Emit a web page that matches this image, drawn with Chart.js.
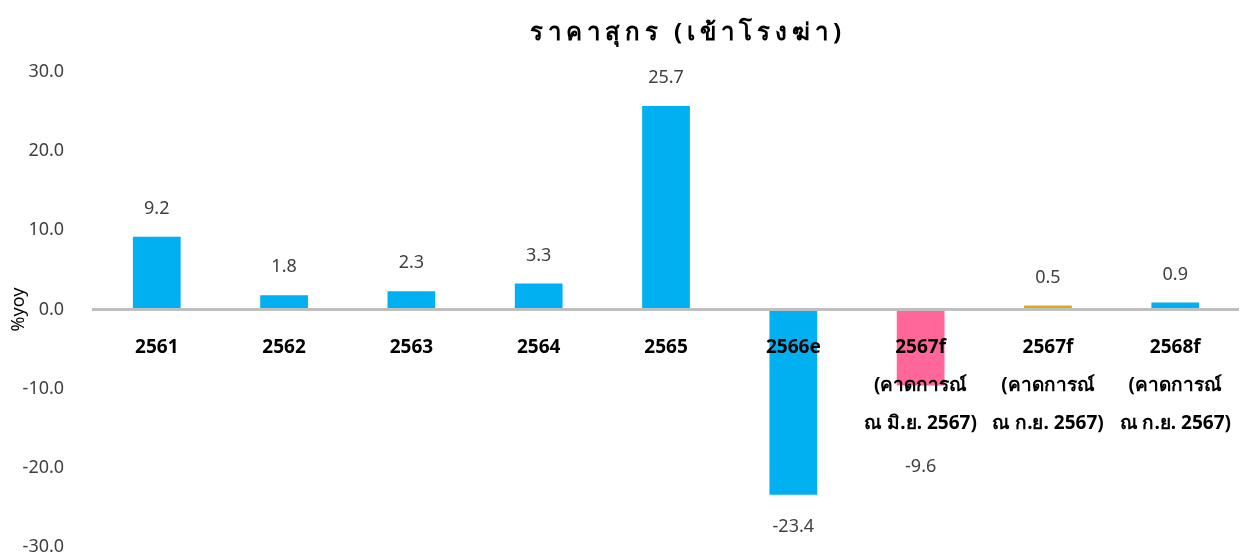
<!DOCTYPE html>
<html>
<head>
<meta charset="utf-8">
<script src="https://cdn.jsdelivr.net/npm/chart.js@4.4.1/dist/chart.umd.min.js"></script>
<style>
  html, body { margin: 0; padding: 0; background: #fff; }
  #wrap { width: 1242px; height: 557px; }
</style>
</head>
<body>
<div id="wrap"><canvas id="pigChart"></canvas></div>
<script>
// ข้อมูลกราฟ
const chartTitle = 'ราคาสุกร (เข้าโรงฆ่า)';
const yTitle = '%yoy';
const categories = [
    ['2561'], ['2562'], ['2563'], ['2564'], ['2565'], ['2566e'],
    ['2567f', '(คาดการณ์', 'ณ มิ.ย. 2567)'],
    ['2567f', '(คาดการณ์', 'ณ ก.ย. 2567)'],
    ['2568f', '(คาดการณ์', 'ณ ก.ย. 2567)']
];
const priceYoy = [9.2, 1.8, 2.3, 3.3, 25.7, -23.4, -9.6, 0.5, 0.9];
const barColors = ['#00B0F0', '#00B0F0', '#00B0F0', '#00B0F0', '#00B0F0', '#00B0F0', '#FF6699', '#DDA81E', '#00B0F0'];
const yTicks = [-30, -20, -10, 0, 10, 20, 30];

const fontFam = "'Noto Sans', 'DejaVu Sans', sans-serif";
const xLabelPad = 11;
const xLineH = 38;

// วาดหัวกราฟ (เว้นระยะตัวอักษร)
const titlePlugin = {
    id: 'spacedTitle',
    afterDraw(chart) {
        const ctx = chart.ctx;
        ctx.save();
        ctx.font = 'bold 24px ' + fontFam;
        ctx.fillStyle = '#000';
        ctx.textAlign = 'center';
        ctx.textBaseline = 'middle';
        if ('letterSpacing' in ctx) ctx.letterSpacing = '5px';
        ctx.fillText(chartTitle, 688, 33);
        ctx.restore();
    }
};

// ป้ายตัวเลขบนแท่ง
const valueLabels = {
    id: 'valueLabels',
    afterDatasetsDraw(chart) {
        const ctx = chart.ctx;
        const meta = chart.getDatasetMeta(0);
        const zeroPx = chart.scales.y.getPixelForValue(0);
        const maxLines = Math.max(...categories.map(c => c.length));
        const labelBottom = zeroPx + xLabelPad + maxLines * xLineH;
        ctx.save();
        ctx.font = '18px ' + fontFam;
        ctx.fillStyle = '#404040';
        ctx.textAlign = 'center';
        ctx.textBaseline = 'middle';
        meta.data.forEach((bar, i) => {
            const v = priceYoy[i];
            const y = v >= 0 ? bar.y - 28 : Math.max(bar.y, labelBottom) + 32;
            ctx.fillText(v.toFixed(1), bar.x, y);
        });
        ctx.restore();
    }
};

new Chart(document.getElementById('pigChart'), {
    type: 'bar',
    data: {
        labels: categories,
        datasets: [{
            data: priceYoy,
            backgroundColor: barColors,
            borderWidth: 0,
            barPercentage: 0.75,
            categoryPercentage: 0.5
        }]
    },
    options: {
        responsive: true,
        maintainAspectRatio: false,
        animation: false,
        layout: { padding: { top: 72, right: 0, bottom: 0, left: 0 } },
        plugins: {
            legend: { display: false },
            tooltip: { enabled: false }
        },
        scales: {
            x: {
                position: { y: 0 },
                // แกน x วางที่ 0 ไม่ต้องกินพื้นที่ด้านล่าง
                afterFit(scale) { scale.height = 0; },
                grid: { display: false },
                border: { color: '#BFBFBF', width: 3, z: 1 },
                ticks: {
                    z: 1,
                    color: '#000',
                    font: { family: fontFam, size: 19, weight: 'bold', lineHeight: 2 },
                    padding: xLabelPad,
                    maxRotation: 0,
                    autoSkip: false
                }
            },
            y: {
                min: -30,
                max: 30,
                afterBuildTicks(axis) {
                    axis.ticks = yTicks.map(v => ({ value: v }));
                },
                // ไม่ให้ระยะห่างป้ายกินพื้นที่ด้านล่าง
                afterFit(scale) { scale.paddingTop = 10; scale.paddingBottom = 10; },
                grid: { display: false },
                border: { display: false },
                title: {
                    display: true,
                    text: yTitle,
                    color: '#000',
                    font: { family: fontFam, size: 18 },
                    padding: { top: 8, bottom: -28 }
                },
                ticks: {
                    color: '#404040',
                    font: { family: fontFam, size: 18 },
                    padding: 21,
                    callback: v => Number(v).toFixed(1)
                }
            }
        }
    },
    plugins: [titlePlugin, valueLabels]
});
</script>
</body>
</html>
